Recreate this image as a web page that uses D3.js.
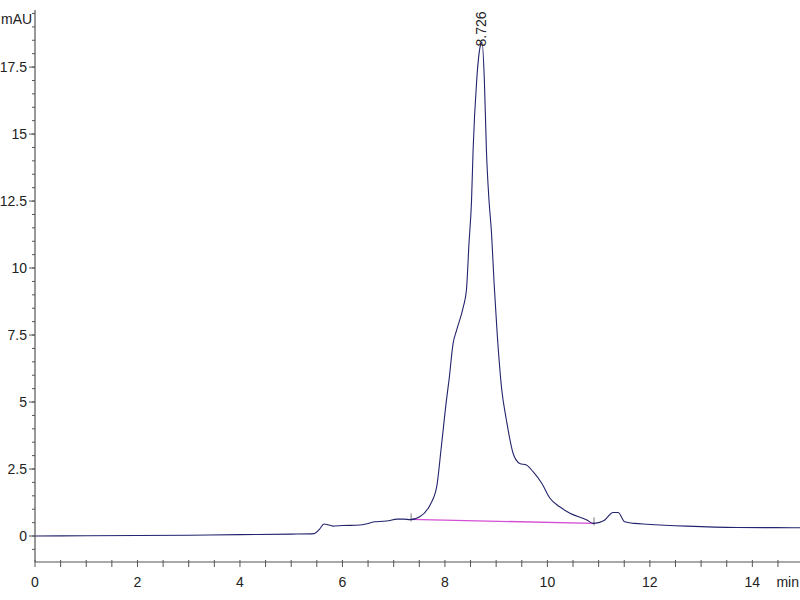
<!DOCTYPE html>
<html>
<head>
<meta charset="utf-8">
<script src="https://cdn.jsdelivr.net/npm/d3@7/dist/d3.min.js"></script>
<style>
  html, body { margin: 0; padding: 0; background: #fff; }
  svg text { font-family: "Liberation Sans Narrow", "Liberation Sans", Arial, sans-serif; fill: #222; }
</style>
</head>
<body>
<svg id="chart" width="800" height="600"></svg>
<script>
// ---- data ----
const times = [0, 1, 2, 3, 4, 5, 5.45, 5.55, 5.64, 5.72, 5.81, 6.0, 6.34, 6.5, 6.63, 6.8, 6.9, 7.06, 7.2, 7.32,
  7.51, 7.71, 7.84, 7.93, 8.03, 8.08, 8.16, 8.23, 8.36, 8.42, 8.47, 8.52, 8.55, 8.62, 8.70, 8.726, 8.77, 8.81,
  8.86, 8.91, 8.96, 9.02, 9.11, 9.2, 9.33, 9.46, 9.59, 9.72, 9.89, 10.05, 10.24, 10.44, 10.77, 10.89, 11.0,
  11.12, 11.28, 11.38, 11.51, 11.7, 11.94, 12.72, 13.7, 14.8, 14.93];
const signal = [0.0, 0.01, 0.02, 0.03, 0.05, 0.07, 0.09, 0.25, 0.45, 0.42, 0.37, 0.39, 0.41, 0.47, 0.53, 0.55, 0.57, 0.63, 0.63, 0.61,
  0.72, 1.16, 1.84, 3.33, 5.07, 5.82, 7.19, 7.69, 8.56, 9.18, 10.92, 12.54, 14.4, 17.0, 18.35, 18.42, 17.0, 14.4,
  12.54, 11.29, 9.43, 7.56, 5.45, 4.33, 3.09, 2.71, 2.65, 2.4, 1.97, 1.41, 1.09, 0.85, 0.6, 0.47, 0.5,
  0.6, 0.88, 0.88, 0.53, 0.47, 0.44, 0.37, 0.32, 0.31, 0.31];
const baseTimes = [7.34, 10.91];
const baseValues = [0.62, 0.47];
const peakTimes = [8.726];
const peakHeights = [18.42];
const peakLabels = ["8.726"];
const xTicks = [0, 2, 4, 6, 8, 10, 12, 14];
const yTicks = [0, 2.5, 5, 7.5, 10, 12.5, 15, 17.5];
const yTickLabels = ["0", "2.5", "5", "7.5", "10", "12.5", "15", "17.5"];

// ---- chart ----
const svg = d3.select("#chart");
const x = d3.scaleLinear().domain([0, 14.93]).range([35, 800]);
const y = d3.scaleLinear().domain([-0.97, 19.63]).range([562, 10]);
const axisColor = "#555";
const fs = 14;

// minor ticks
const xMinor = d3.range(0, 15, 0.5).filter(v => v <= 14.93);
const yMinor = d3.range(-0.5, 19.6, 0.5);

const xAxisG = svg.append("g");
xAxisG.append("line").attr("x1", x(0)).attr("x2", 800).attr("y1", y(-0.97)).attr("y2", y(-0.97))
  .attr("stroke", axisColor).attr("stroke-width", 1.2);
xAxisG.selectAll("line.minor").data(xMinor).join("line").attr("class", "minor")
  .attr("x1", d => x(d)).attr("x2", d => x(d))
  .attr("y1", 560).attr("y2", 567).attr("stroke", axisColor).attr("stroke-width", 1);
xAxisG.selectAll("text").data(xTicks).join("text")
  .attr("x", d => x(d)).attr("y", 587).attr("text-anchor", "middle")
  .attr("font-size", fs).text(d => d);
svg.append("text").attr("x", 799).attr("y", 587).attr("text-anchor", "end")
  .attr("font-size", fs).text("min");

const yAxisG = svg.append("g");
yAxisG.append("line").attr("x1", 35).attr("x2", 35).attr("y1", 10).attr("y2", 562)
  .attr("stroke", axisColor).attr("stroke-width", 1.2);
yAxisG.selectAll("line.minor").data(yMinor).join("line").attr("class", "minor")
  .attr("x1", 32).attr("x2", 35)
  .attr("y1", d => y(d)).attr("y2", d => y(d)).attr("stroke", axisColor).attr("stroke-width", 1);
yAxisG.selectAll("line.major").data(yTicks).join("line").attr("class", "major")
  .attr("x1", 29).attr("x2", 35)
  .attr("y1", d => y(d)).attr("y2", d => y(d)).attr("stroke", axisColor).attr("stroke-width", 1);
yAxisG.selectAll("text").data(yTicks).join("text")
  .attr("x", 27).attr("y", d => y(d) + 5).attr("text-anchor", "end")
  .attr("font-size", fs).text((d, i) => yTickLabels[i]);
svg.append("text").attr("x", 1).attr("y", 24).attr("font-size", fs).text("mAU");

// baseline (integration)
const baseData = baseTimes.map((t, i) => [t, baseValues[i]]);
svg.append("path").datum(baseData)
  .attr("d", d3.line().x(d => x(d[0])).y(d => y(d[1])))
  .attr("fill", "none").attr("stroke", "#d44fd4").attr("stroke-width", 1.3);
svg.selectAll("line.bt").data(baseData).join("line").attr("class", "bt")
  .attr("x1", d => x(d[0])).attr("x2", d => x(d[0]))
  .attr("y1", d => y(d[1]) - 6).attr("y2", d => y(d[1]) + 2)
  .attr("stroke", "#555").attr("stroke-width", 0.8);

// signal trace
const data = times.map((t, i) => [t, signal[i]]);
svg.append("path").datum(data)
  .attr("d", d3.line().curve(d3.curveMonotoneX).x(d => x(d[0])).y(d => y(d[1])))
  .attr("fill", "none").attr("stroke", "#23236e").attr("stroke-width", 1.1);

// peak labels
peakTimes.forEach((t, i) => {
  const px = x(t), py = y(peakHeights[i]) + 4;
  svg.append("text")
    .attr("transform", `translate(${px + 4},${py}) rotate(-90)`)
    .attr("font-size", fs).attr("text-anchor", "start").text(peakLabels[i]);
});
</script>
</body>
</html>
